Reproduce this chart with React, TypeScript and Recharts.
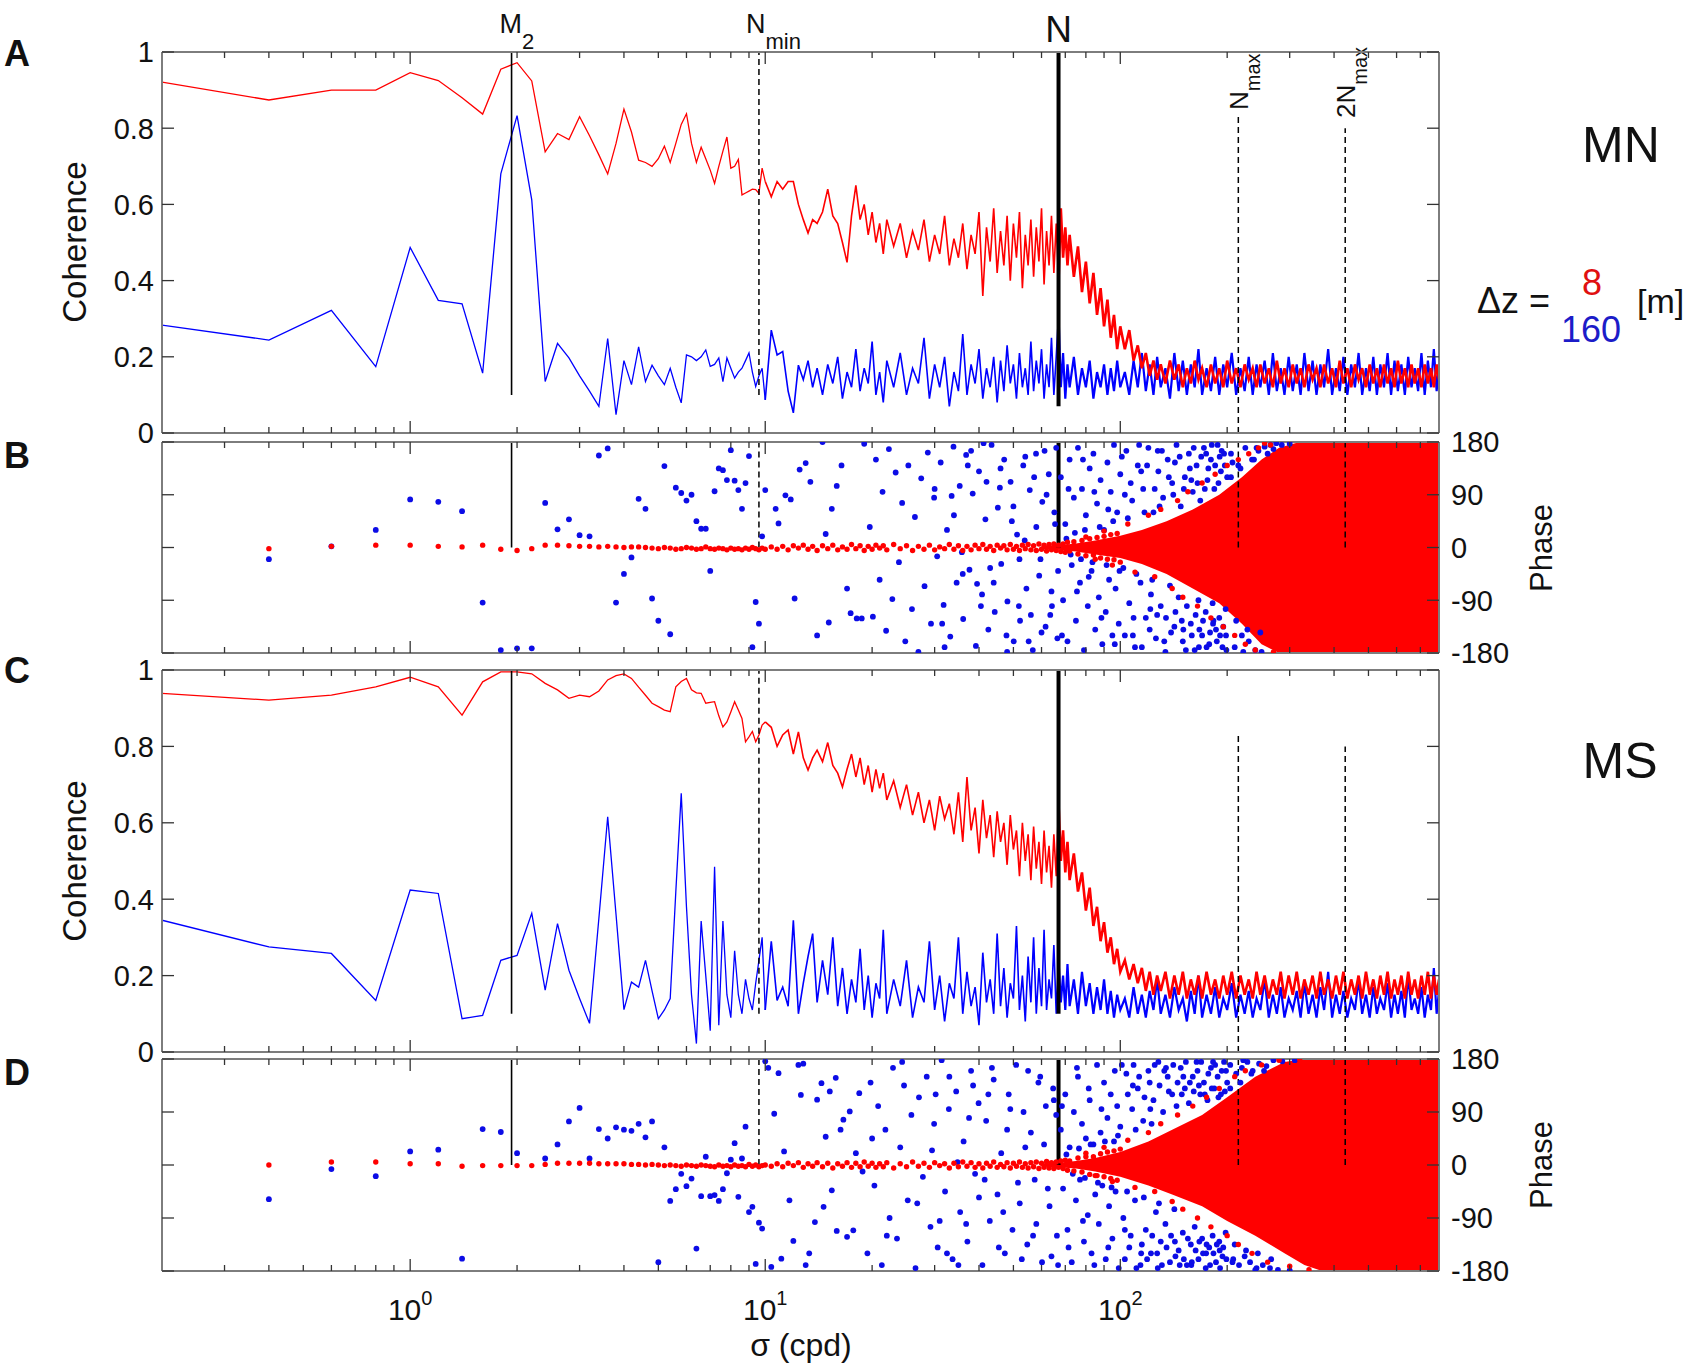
import React from "react";
import { ComposedChart, Line, Scatter, Area, XAxis, YAxis, ReferenceLine } from "recharts";

// page + plot geometry
const W = 1698;
const H = 1372;
const LEFT = 162;
const RIGHT = 1439;
const FONT = '"Liberation Sans", Arial, Helvetica, sans-serif';
const RED = "#ff0000";
const BLUE = "#0000ff";
const DOT_BLUE = "#0c0ce6";
const INK = "#111";

// axes
const xDomain = [0.2, 790];
const xTicks = [0.3, 0.4, 0.5, 0.6, 0.7, 0.8, 0.9, 1, 2, 3, 4, 5, 6, 7, 8, 9, 10, 20, 30, 40, 50, 60, 70, 80, 90, 100, 200, 300, 400, 500, 600, 700];
const xMajor = [1, 10, 100];
const xMajorExp = ["0", "1", "2"];
const cohTicks = [0, 0.2, 0.4, 0.6, 0.8, 1];
const phaseTicks = [-180, -90, 0, 90, 180];

// reference frequencies (cpd)
const fM2 = 1.93;
const fNmin = 9.6;
const fN = 67;
const fNmax = 215;
const f2Nmax = 430;

// frequency grid of the coherence / phase estimates
const freqLow = [0.2, 0.4, 0.6, 0.8, 1, 1.2, 1.4, 1.6, 1.8, 2,
  2.2, 2.4, 2.6, 2.8, 3, 3.2, 3.4, 3.6, 3.8, 4,
  4.2, 4.4, 4.6, 4.8, 5, 5.2, 5.4, 5.6, 5.8, 6,
  6.2, 6.4, 6.6, 6.8, 7, 7.2, 7.4, 7.6, 7.8, 8,
  8.2, 8.4, 8.6, 8.8, 9, 9.2, 9.4, 9.6, 9.8, 10];
const freqMid = [10.4, 10.8, 11.2, 11.6, 12, 12.4, 12.8, 13.2, 13.6, 14,
  14.5, 15, 15.5, 16, 16.5, 17, 17.5, 18, 18.5, 19,
  19.5, 20, 20.5, 21, 21.5, 22, 23, 24, 25, 26,
  27, 28, 29, 30, 31, 32, 33, 34, 35, 36,
  37, 38, 39, 40, 41, 42, 43, 44, 45, 46,
  47, 48, 49, 50, 51, 52, 53, 54, 55, 56,
  57, 58, 59, 60, 61, 62, 63, 64, 65, 66,
  67, 68, 69, 70, 71, 72, 74, 76, 78, 80,
  82, 84, 86, 88, 90, 92, 94, 96, 98, 100];
const freqHigh = [103, 106, 109, 112, 115, 118, 121, 124, 127, 130,
  134, 138, 142, 146, 150, 154, 158, 162, 166, 170,
  175, 180, 185, 190, 195, 200,
  206, 212, 218, 224, 230, 236, 242, 248,
  255, 262, 269, 276, 283, 290,
  298, 306, 314, 322, 330,
  339, 348, 357, 366, 375,
  385, 395, 405, 415, 425,
  436, 447, 458, 469, 480,
  492, 504, 516, 528, 540,
  553, 566, 579, 592, 605,
  619, 633, 647, 661, 675,
  690, 705, 720, 735, 750,
  764, 778, 790];

// ---- MN coherence (A) ----
const mnCoh8Low = [0.921, 0.874, 0.9, 0.9, 0.946, 0.925, 0.88, 0.837, 0.955, 0.972,
  0.924, 0.738, 0.786, 0.77, 0.83, 0.78, 0.73, 0.68, 0.76, 0.85,
  0.79, 0.716, 0.71, 0.7, 0.72, 0.753, 0.71, 0.76, 0.81, 0.838,
  0.76, 0.71, 0.75, 0.72, 0.69, 0.655, 0.7, 0.74, 0.777, 0.695,
  0.7, 0.718, 0.625, 0.63, 0.635, 0.64, 0.639, 0.629, 0.695, 0.66];
const mnCoh8Mid = [0.62, 0.66, 0.64, 0.66, 0.66, 0.6, 0.56, 0.525, 0.56, 0.55,
  0.58, 0.64, 0.57, 0.55, 0.5, 0.448, 0.57, 0.65, 0.56, 0.6,
  0.52, 0.58, 0.5, 0.55, 0.47, 0.56, 0.49, 0.55, 0.46, 0.53,
  0.48, 0.56, 0.45, 0.52, 0.47, 0.57, 0.44, 0.51, 0.46, 0.55,
  0.43, 0.52, 0.47, 0.58, 0.36, 0.54, 0.45, 0.59, 0.42, 0.53,
  0.44, 0.57, 0.4, 0.55, 0.46, 0.58, 0.38, 0.52, 0.44, 0.56,
  0.41, 0.54, 0.45, 0.59, 0.39, 0.53, 0.44, 0.57, 0.42, 0.55,
  0.4, 0.59, 0.46, 0.54, 0.44, 0.52, 0.41, 0.49, 0.37, 0.45,
  0.34, 0.42, 0.31, 0.38, 0.28, 0.35, 0.25, 0.31, 0.22, 0.28];
const mnCoh8High = [0.22, 0.27, 0.19, 0.23, 0.17, 0.21, 0.15, 0.19, 0.14, 0.18,
  0.13, 0.19, 0.14, 0.18, 0.12, 0.17, 0.13, 0.19, 0.14, 0.17,
  0.12, 0.18, 0.13, 0.17, 0.12, 0.19,
  0.13, 0.17, 0.12, 0.18, 0.14, 0.17, 0.12, 0.18,
  0.13, 0.17, 0.12, 0.19, 0.13, 0.17,
  0.12, 0.18, 0.13, 0.17, 0.12,
  0.18, 0.14, 0.17, 0.12, 0.18,
  0.13, 0.17, 0.12, 0.19, 0.13,
  0.17, 0.12, 0.18, 0.14, 0.17,
  0.12, 0.18, 0.13, 0.17, 0.12,
  0.18, 0.13, 0.17, 0.12, 0.19,
  0.13, 0.17, 0.12, 0.18, 0.13,
  0.17, 0.12, 0.18, 0.13, 0.17,
  0.12, 0.18, 0.14];
const mnCoh160Low = [0.283, 0.244, 0.322, 0.174, 0.487, 0.348, 0.339, 0.157, 0.68, 0.833,
  0.612, 0.135, 0.235, 0.197, 0.15, 0.11, 0.07, 0.248, 0.048, 0.19,
  0.127, 0.226, 0.135, 0.178, 0.15, 0.127, 0.17, 0.12, 0.079, 0.205,
  0.2, 0.19, 0.2, 0.218, 0.175, 0.18, 0.197, 0.135, 0.197, 0.17,
  0.144, 0.16, 0.17, 0.19, 0.21, 0.16, 0.122, 0.15, 0.17, 0.087];
const mnCoh160Mid = [0.27, 0.205, 0.214, 0.11, 0.053, 0.178, 0.14, 0.19, 0.12, 0.17,
  0.1, 0.18, 0.13, 0.2, 0.09, 0.16, 0.12, 0.22, 0.11, 0.17,
  0.13, 0.24, 0.1, 0.16, 0.08, 0.19, 0.12, 0.21, 0.1, 0.17,
  0.13, 0.25, 0.09, 0.18, 0.12, 0.2, 0.07, 0.16, 0.11, 0.26,
  0.1, 0.18, 0.13, 0.22, 0.09, 0.17, 0.12, 0.2, 0.08, 0.19,
  0.11, 0.23, 0.13, 0.18, 0.09, 0.21, 0.12, 0.17, 0.1, 0.24,
  0.11, 0.19, 0.13, 0.22, 0.09, 0.18, 0.12, 0.25, 0.1, 0.2,
  0.31, 0.12, 0.21, 0.09, 0.18, 0.12, 0.2, 0.1, 0.17, 0.12,
  0.19, 0.09, 0.16, 0.12, 0.18, 0.1, 0.17, 0.11, 0.19, 0.12];
const mnCoh160High = [0.16, 0.1, 0.19, 0.12, 0.21, 0.11, 0.18, 0.1, 0.2, 0.12,
  0.17, 0.09, 0.21, 0.11, 0.19, 0.1, 0.18, 0.12, 0.22, 0.1,
  0.17, 0.11, 0.2, 0.1, 0.18, 0.12,
  0.21, 0.1, 0.17, 0.11, 0.2, 0.1, 0.18, 0.12,
  0.19, 0.1, 0.21, 0.11, 0.17, 0.1,
  0.2, 0.11, 0.18, 0.1, 0.21,
  0.11, 0.19, 0.1, 0.18, 0.12,
  0.22, 0.1, 0.17, 0.11, 0.2,
  0.1, 0.18, 0.12, 0.21, 0.1,
  0.17, 0.11, 0.2, 0.1, 0.18,
  0.12, 0.21, 0.1, 0.19, 0.11,
  0.18, 0.1, 0.2, 0.12, 0.17,
  0.11, 0.21, 0.1, 0.19, 0.12,
  0.22, 0.11, 0.18];

// ---- MS coherence (C) ----
const msCoh8Low = [0.939, 0.921, 0.934, 0.956, 0.981, 0.956, 0.882, 0.969, 0.995, 0.995,
  0.99, 0.965, 0.948, 0.926, 0.934, 0.93, 0.945, 0.974, 0.985, 0.99,
  0.978, 0.955, 0.934, 0.913, 0.904, 0.895, 0.891, 0.956, 0.97, 0.978,
  0.948, 0.94, 0.939, 0.913, 0.915, 0.917, 0.88, 0.851, 0.864, 0.89,
  0.917, 0.895, 0.873, 0.812, 0.825, 0.839, 0.812, 0.83, 0.856, 0.864];
const msCoh8Mid = [0.85, 0.8, 0.83, 0.843, 0.78, 0.838, 0.77, 0.738, 0.77, 0.79,
  0.76, 0.81, 0.75, 0.73, 0.694, 0.74, 0.78, 0.72, 0.77, 0.7,
  0.75, 0.68, 0.74, 0.69, 0.73, 0.66, 0.71, 0.64, 0.7, 0.62,
  0.68, 0.6, 0.66, 0.58, 0.67, 0.61, 0.65, 0.57, 0.68, 0.55,
  0.72, 0.58, 0.64, 0.52, 0.66, 0.56, 0.62, 0.51, 0.63, 0.55,
  0.6, 0.49, 0.62, 0.53, 0.58, 0.46, 0.6, 0.5, 0.57, 0.45,
  0.59, 0.48, 0.55, 0.44, 0.58, 0.47, 0.54, 0.43, 0.57, 0.46,
  0.65, 0.5, 0.58, 0.47, 0.55, 0.45, 0.52, 0.42, 0.47, 0.37,
  0.43, 0.33, 0.38, 0.29, 0.34, 0.26, 0.3, 0.23, 0.27, 0.21];
const msCoh8High = [0.24, 0.19, 0.23, 0.18, 0.22, 0.16, 0.21, 0.15, 0.2, 0.16,
  0.21, 0.14, 0.2, 0.15, 0.21, 0.14, 0.19, 0.15, 0.2, 0.14,
  0.21, 0.15, 0.19, 0.14, 0.2, 0.15,
  0.21, 0.14, 0.2, 0.15, 0.19, 0.14, 0.21, 0.15,
  0.2, 0.14, 0.19, 0.15, 0.21, 0.14,
  0.2, 0.15, 0.21, 0.14, 0.19,
  0.15, 0.2, 0.14, 0.21, 0.15,
  0.19, 0.14, 0.2, 0.15, 0.21,
  0.14, 0.19, 0.15, 0.2, 0.14,
  0.21, 0.15, 0.19, 0.14, 0.2,
  0.15, 0.21, 0.14, 0.19, 0.15,
  0.2, 0.14, 0.21, 0.15, 0.19,
  0.14, 0.2, 0.15, 0.21, 0.14,
  0.2, 0.15, 0.19];
const msCoh160Low = [0.345, 0.275, 0.258, 0.135, 0.424, 0.415, 0.087, 0.096, 0.24, 0.253,
  0.363, 0.162, 0.336, 0.214, 0.14, 0.075, 0.35, 0.616, 0.36, 0.111,
  0.183, 0.17, 0.24, 0.16, 0.087, 0.11, 0.14, 0.42, 0.677, 0.38,
  0.15, 0.022, 0.343, 0.2, 0.056, 0.485, 0.07, 0.343, 0.15, 0.09,
  0.265, 0.15, 0.1, 0.19, 0.14, 0.11, 0.18, 0.24, 0.3, 0.11];
const msCoh160Mid = [0.29, 0.135, 0.17, 0.12, 0.345, 0.1, 0.18, 0.25, 0.31, 0.13,
  0.24, 0.15, 0.3, 0.12, 0.22, 0.1, 0.19, 0.13, 0.27, 0.11,
  0.2, 0.09, 0.18, 0.14, 0.32, 0.1, 0.19, 0.12, 0.24, 0.09,
  0.17, 0.13, 0.29, 0.11, 0.2, 0.08, 0.18, 0.14, 0.3, 0.1,
  0.21, 0.12, 0.17, 0.07, 0.26, 0.13, 0.19, 0.1, 0.31, 0.12,
  0.22, 0.09, 0.18, 0.14, 0.33, 0.11, 0.2, 0.08, 0.25, 0.13,
  0.3, 0.1, 0.22, 0.12, 0.32, 0.11, 0.19, 0.14, 0.28, 0.1,
  0.24, 0.13, 0.2, 0.11, 0.23, 0.12, 0.19, 0.1, 0.21, 0.12,
  0.18, 0.1, 0.17, 0.11, 0.19, 0.1, 0.16, 0.09, 0.15, 0.11];
const msCoh160High = [0.14, 0.09, 0.17, 0.1, 0.15, 0.09, 0.16, 0.11, 0.19, 0.1,
  0.15, 0.09, 0.17, 0.11, 0.14, 0.08, 0.16, 0.1, 0.2, 0.09,
  0.15, 0.1, 0.17, 0.09, 0.14, 0.11,
  0.18, 0.09, 0.15, 0.1, 0.16, 0.09, 0.14, 0.11,
  0.19, 0.09, 0.15, 0.1, 0.17, 0.09,
  0.14, 0.11, 0.16, 0.09, 0.18,
  0.1, 0.15, 0.09, 0.17, 0.11,
  0.21, 0.09, 0.15, 0.1, 0.16,
  0.09, 0.14, 0.11, 0.19, 0.1,
  0.15, 0.09, 0.17, 0.1, 0.14,
  0.11, 0.18, 0.09, 0.15, 0.1,
  0.16, 0.09, 0.2, 0.11, 0.14,
  0.1, 0.17, 0.09, 0.15, 0.11,
  0.22, 0.1, 0.16];

// ---- MN phase (B), degrees ----
const mnPhase8Low = [null, -2, 2, 4, 4, 2, 1, 4, -3, -5,
  -2, 4, 4, 3, 2, 2, 1, 2, 1, 0,
  1, 1, 0, -1, -2, 0, -1, -3, -2, 0,
  -1, -3, -2, 1, -2, -3, -1, -2, -4, -1,
  -3, -2, -4, -1, -3, 0, -2, -4, -1, -3];
const mnPhase8Mid = [1, -3, 2, -4, 3, -1, 4, -3, 2, -5,
  3, -2, 4, -4, 1, -3, 5, -2, 3, -5,
  2, -3, 4, -1, 3, -4, 5, -2, 3, -5,
  2, -3, 4, -4, 1, -2, 5, -3, 3, -5,
  2, -4, 4, -2, 5, -3, 2, -5, 4, -1,
  3, -4, 5, -3, 2, -5, 4, -2, 5, -4,
  3, -5, 6, -3, 4, -6, 5, -4, 6, -5,
  4, -7, 6, -8, 9, -6, 10, -11, 12, -14,
  15, -13, 17, -18, 19, -20, 22, -21, 24, -25];
const mnPhase8Outer = [[80, 18], [85, -20], [90, 28], [95, -30], [105, 40], [110, -42], [120, 55], [125, -50],
  [130, 65], [140, -70], [145, 80], [150, -85], [155, 95], [165, -100], [170, 110], [180, -120],
  [185, 125], [195, -135], [200, 140], [210, -150], [215, 150], [225, -165], [230, 160], [240, -175],
  [245, 170], [255, 178], [265, 175], [270, -178]];
// dense core of the 8 m phase cloud: frequency, lower and upper edge
const mnCoreFreq = [60, 67, 75, 85, 100, 115, 135, 160, 190, 220, 250, 280, 320, 790];
const mnCoreLo = [-3, -4, -7, -12, -18, -28, -45, -70, -95, -130, -165, -180, -180, -180];
const mnCoreHi = [3, 4, 7, 12, 20, 30, 45, 65, 90, 120, 150, 170, 180, 180];
const mnPhase160Low = [null, -20, 2, 30, 82, 78, 62, -94, -175, -172,
  -172, 76, 31, 48, 21, 19, 157, 169, -94, -45,
  -17, 83, 66, -87, -125, 139, -148, 102, 93, 80,
  90, 45, 32, 32, -40, 96, 135, 132, 115, 166,
  114, 98, 66, 110, 156, -170, -93, -130, 19, 98];
const mnPhase160Extra = [
  [10.7, 66], [10.9, 41], [11.4, 89], [11.8, 82], [12.1, -87], [12.5, 133], [13.0, 144], [13.4, 112], [14.0, -150], [14.5, 180],
  [14.8, 23], [15.1, -128], [15.4, 66], [15.9, 105], [16.4, 140], [17.0, -70], [17.4, -112], [18.1, -121], [18.7, -121], [19.0, 177],
  [19.7, 35], [20.1, -118], [20.5, 150], [21.0, -55], [21.4, 95], [21.9, -142], [22.3, 168], [22.8, -88], [23.3, 128], [23.8, -25],
  [24.3, 76], [24.8, -160], [25.3, 140], [25.9, -105], [26.4, 52], [27.0, -178], [27.5, 118], [28.1, -66], [28.7, 162], [29.3, -130],
  [29.9, 85], [30.5, -15], [31.2, 145], [31.8, -98], [32.5, 30], [33.2, -152], [33.9, 172], [34.6, -60], [35.3, 105], [36.1, -122],
  [36.8, 158], [37.6, -38], [38.4, 92], [39.2, -168], [40.0, 130], [40.8, -80], [41.7, 48], [42.5, -140], [43.4, 175], [44.3, -110],
  [45.2, 68], [46.2, -28], [47.1, 150], [48.1, -92], [49.1, 112], [50.1, -160], [51.2, 22], [52.2, -125], [53.3, 140], [54.4, -70],
  [55.6, 98], [56.7, -175], [57.9, 160], [59.1, -48], [60.3, 78], [61.6, -135], [62.9, 125], [64.2, -100], [65.5, 40], [66.5, -155],
  [30.0, 100], [32.0, -170], [34.0, 55], [36.0, -45], [38.0, 165], [40.5, -100], [42.0, 112], [44.0, -60], [46.0, 135], [48.0, -178],
  [50.0, 70], [52.0, -20], [54.0, 155], [56.0, -115], [58.0, 35], [60.0, -145], [62.0, 90], [64.0, -75], [66.0, 170],
  [31.5, -130], [33.5, 88], [35.8, -8], [37.2, 140], [39.5, -62], [41.2, 178], [43.0, -35], [45.8, 102], [47.8, -150], [49.5, 45],
  [51.8, -100], [53.8, 12], [55.2, -160], [57.2, 120], [59.6, -20], [61.2, 165], [63.5, -115], [65.2, 60], [66.8, -40],
  [68, 120], [69, -90], [70, 40], [71, -160], [72, 150], [73, -30], [74, 85], [75, -125], [76, 170], [77, -60],
  [78, 100], [79, -175], [80, 55], [81, -100], [82, 135], [83, -40], [84, 160], [85, -140], [86, 75], [87, -85],
  [88, 115], [89, -165], [90, 30], [91, -110], [92, 145], [93, -55], [94, 95], [95, -150], [96, 175], [97, -70],
  [98, 60], [99, -130], [100, 125], [102, -35], [104, 165], [106, -95], [108, 80], [110, -170], [112, 140], [114, -60],
  [116, 100], [118, -120], [120, 170], [122, -80], [124, 60], [126, -155], [128, 130], [130, -100], [132, 85], [134, -178],
  [136, 150], [138, -65], [140, 110], [142, -135], [144, 175], [146, -85], [148, 70], [150, -160], [152, 120], [154, -100],
  [156, 160], [158, -130], [160, 95], [162, -175], [164, 140], [166, -90], [168, 80], [170, -150], [172, 170], [174, -110],
  [176, 115], [178, -165], [180, 150], [182, -95], [184, 100], [186, -140], [188, 175], [190, -120], [192, 130], [194, -170],
  [196, 160], [198, -105], [200, 120],
  [68.5, -150], [71.5, 100], [75.5, -75], [78.5, 150], [81.5, -50], [84.5, 95], [88.5, -120], [92.5, 65], [96.5, -165], [103, 90],
  [108.5, -150], [114.5, 130], [121.5, -105], [127.5, 165], [134.5, -120], [142.5, 145], [150.5, -140], [158.5, 115], [166.5, -170], [174.5, 160],
  [182.5, -130], [190.5, 155], [198.5, -150], [207, 145], [222, -178], [242, 170],
  [70.5, 15], [72.5, -12], [74.5, 25], [77.5, -20], [79.5, 30], [83.5, -25], [87.5, 35], [91.5, -30], [95.5, 45], [99.5, -40],
  [105, 50], [111, -45], [117, 60], [123, -55], [129, 70],
  [101, 155], [103, -150], [107, 110], [109, -120], [113, 175], [115, -170], [119, 140], [121, -140], [125, 100], [127, -115],
  [131, 165], [133, -160], [137, 120], [139, -145], [141, 90], [143, -110], [147, 155], [149, -125], [151, 100], [153, -175],
  [157, 135], [159, -150], [161, 170], [163, -115], [165, 110], [167, -140], [169, 155], [171, -125], [173, 100], [175, -170],
  [177, 135], [179, -145], [181, 175], [183, -125], [185, 140], [187, -160], [189, 110], [191, -150], [193, 165], [195, -135],
  [197, 140], [199, -175],
  [205, 160], [210, -170], [215, 140], [220, -150], [225, 170], [230, -160], [235, 150], [240, -175], [245, 165], [250, -178],
  [255, 172], [260, 160], [265, 175], [270, 168], [275, 178], [285, 175], [300, 177], [205, 120], [212, -125], [218, 135],
  [228, -140], [238, 150], [248, -145]];

// ---- MS phase (D), degrees ----
const msPhase8Low = [null, 0, 5, 5, 2, 2, -2, -1, -1, -1,
  -1, 1, 3, 3, 3, 3, 2, 2, 2, 2,
  1, 1, 0, 1, 0, -1, 0, -1, -2, 0,
  -1, -2, 0, -1, -2, -3, 0, -2, -1, -3,
  0, -2, -1, -3, 1, -2, 0, -3, -1, 0];
const msPhase8Mid = [-2, 2, -3, 3, -1, 4, -4, 2, -2, 4,
  -3, 3, -5, 2, -2, 4, -4, 3, -3, 5,
  -2, 3, -4, 2, -3, 4, -5, 2, -3, 5,
  -2, 3, -4, 4, -1, 2, -5, 3, -3, 5,
  -2, 4, -4, 2, -5, 3, -2, 5, -4, 1,
  -3, 4, -5, 3, -2, 5, -4, 2, -5, 4,
  -3, 5, -6, 3, -4, 6, -5, 4, -6, 5,
  -4, 7, -6, 8, -9, 7, -10, 12, -12, 14,
  -16, 14, -18, 19, -20, 22, -23, 24, -26, 27];
const msPhase8Outer = [[80, 20], [85, -18], [90, 30], [95, -28], [105, 42], [110, -38], [120, 55], [125, -45],
  [130, 70], [140, -62], [145, 85], [150, -75], [160, 100], [165, -90], [175, 115], [180, -105],
  [190, 130], [200, -120], [210, 150], [215, -135], [225, 160], [235, -150], [250, 170], [260, -165],
  [280, 178], [300, -172], [320, 180], [340, -178]];
const msCoreFreq = [60, 67, 75, 85, 100, 120, 140, 170, 200, 240, 290, 330, 370, 790];
const msCoreLo = [-3, -4, -6, -11, -20, -35, -50, -70, -95, -120, -150, -170, -180, -180];
const msCoreHi = [3, 4, 7, 12, 22, 40, 60, 85, 115, 150, 175, 180, 180, 180];
const msPhase160Low = [null, -58, -7, -19, 23, 26, -159, 61, 56, 20,
  null, 11, 35, 74, 97, 11, 61, 45, 64, 60,
  58, 70, 47, 74, -165, 30, -61, -41, -15, -36,
  -23, -142, -53, 14, -53, -51, -61, -41, -14, 9,
  37, -54, 11, 65, -80, -71, -168, -98, -108, 176];
const msPhase160Extra = [
  [10.2, 165], [10.4, -173], [10.6, 87], [10.9, 156], [11.1, -159], [11.3, 23], [11.7, -60], [12.0, -129], [12.4, 170], [12.6, 119],
  [12.8, 172], [13.0, -170], [13.3, -150], [13.8, -97], [14.0, 111], [14.4, 139], [14.6, -71], [14.8, 48], [15.2, 125], [15.4, -43],
  [15.8, 148], [15.9, -112], [16.3, 60], [16.6, 77], [17.0, -122], [17.3, 91], [17.7, -111], [18.0, 20], [18.4, 122], [18.8, -11],
  [19.4, -150], [19.8, 140], [20.3, -35], [20.8, 100], [21.3, -170], [21.8, 60], [22.4, -90], [22.9, 165], [23.5, -125], [24.0, 30],
  [24.6, 135], [25.2, -60], [25.8, 85], [26.5, -175], [27.1, 115], [27.8, -20], [28.5, 150], [29.2, -105], [29.9, 70], [30.6, -140],
  [31.4, 178], [32.1, -45], [32.9, 95], [33.7, -160], [34.5, 125], [35.4, -80], [36.2, 40], [37.1, -130], [38.0, 160], [39.0, -15],
  [39.9, 105], [40.9, -170], [41.9, 75], [42.9, -95], [44.0, 145], [45.1, -50], [46.2, 20], [47.3, -150], [48.5, 120], [49.7, -110],
  [50.9, 170], [52.1, -65], [53.4, 90], [54.7, -135], [56.0, 55], [57.4, -25], [58.8, 140], [60.2, -165], [61.7, 100], [63.2, -70],
  [64.7, 130], [66.3, -120],
  [20.0, 45], [22.0, -120], [24.3, 175], [26.8, -65], [29.5, 25], [31.0, -95], [33.0, 150], [35.0, -170], [37.5, 80], [40.0, -55],
  [42.5, 120], [45.5, -140], [48.0, 60], [51.5, -30], [55.0, 160], [58.0, -100], [61.0, 35], [64.0, -155], [66.0, 85],
  [30.2, 120], [32.5, -150], [34.8, 5], [36.8, -100], [38.5, 135], [41.5, -25], [43.5, 165], [46.8, -80], [49.0, 95], [52.8, -160],
  [54.0, 30], [56.8, -120], [59.5, 150], [62.5, -40], [65.0, 110], [66.8, -170],
  [68, 60], [69, -40], [70, 120], [71, -110], [72, 30], [73, -165], [74, 90], [75, -60], [76, 150], [77, -25],
  [78, 70], [79, -130], [80, 45], [81, -85], [82, 110], [83, -150], [84, 35], [85, -50], [86, 170], [87, -100],
  [88, 55], [89, -35], [90, 140], [91, -160], [92, 80], [93, -70], [94, 120], [95, -125], [96, 40], [97, -45],
  [98, 100], [99, -175], [100, 65], [102, -90], [104, 155], [106, -140], [108, 95], [110, -60], [112, 130], [114, -170],
  [116, 75], [118, -110], [120, 160], [122, -150], [124, 110], [126, -80], [128, 175], [130, -130], [132, 90], [134, -100],
  [136, 150], [138, -165], [140, 120], [142, -75], [144, 100], [146, -145], [148, 165], [150, -115], [152, 130], [154, -170],
  [156, 105], [158, -135], [160, 150], [162, -105], [164, 175], [166, -160], [168, 120], [170, -125], [172, 140], [174, -175],
  [176, 110], [178, -140], [180, 165], [182, -120], [184, 130], [186, -165], [188, 150], [190, -130], [192, 120], [194, -155],
  [196, 175], [198, -115], [200, 140],
  [68.5, 100], [71.5, -140], [75.5, 165], [78.5, -95], [81.5, 130], [84.5, -170], [88.5, 95], [92.5, -140], [96.5, 160], [103, -110],
  [108.5, 135], [114.5, -150], [121.5, 95], [127.5, -175], [134.5, 165], [142.5, -130], [150.5, 150], [158.5, -170], [166.5, 135], [174.5, -150],
  [182.5, 175], [190.5, -145], [198.5, 160], [207, -165], [222, 178], [242, -175],
  [101, 170], [103, -160], [105, 120], [107, -120], [109, 170], [111, -175], [113, 150], [115, -135], [117, 115], [119, -160],
  [121, 140], [123, -120], [125, 170], [127, -150], [129, 135], [131, -170], [133, 160], [135, -140], [137, 125], [139, -120],
  [141, 170], [143, -155], [145, 140], [147, -170], [149, 120], [151, -160], [153, 175], [155, -125], [157, 140], [159, -165],
  [161, 125], [163, -145], [165, 160], [167, -130], [169, 175], [171, -150], [173, 120], [175, -135], [177, 155], [179, -170],
  [181, 130], [183, -150], [185, 170], [187, -135], [189, 115], [191, -175], [193, 160], [195, -140], [197, 125], [199, -160],
  [70.5, 18], [73.5, -15], [76.5, 28], [79.5, -22], [82.5, 35], [86.5, -30], [90.5, 40], [94.5, -38], [98.5, 50], [104.5, -45],
  [110.5, 60], [116.5, -55], [122.5, 70], [128.5, -65],
  [204, 170], [208, -160], [212, 155], [216, -170], [220, 165], [224, -155], [228, 175], [232, -165], [236, 160], [240, -178],
  [246, 172], [252, -170], [258, 168], [264, -175], [270, 178], [278, -178], [286, 176], [300, -179], [310, 178], [204, 130],
  [210, -135], [218, 140], [226, -145], [234, 155], [244, -150], [254, 160], [266, -160]];

// ---- row builders ----
type Row = { f: number; v: number };
const zipRows = (fs: number[], vs: (number | null)[]): Row[] =>
  fs.map((f, i) => ({ f, v: vs[i] as number })).filter((r) => r.v !== null && r.v !== undefined);
const pairRows = (pairs: number[][]): Row[] => pairs.map(([f, v]) => ({ f, v }));
const coreRows = (fs: number[], lo: number[], hi: number[]) => fs.map((f, i) => ({ f, range: [lo[i], hi[i]] }));
const seriesRows = (low: number[], mid: number[], high: number[]) =>
  [...zipRows(freqLow, low), ...zipRows(freqMid, mid), ...zipRows(freqHigh, high)];

const mnRed = seriesRows(mnCoh8Low, mnCoh8Mid, mnCoh8High);
const mnBlue = seriesRows(mnCoh160Low, mnCoh160Mid, mnCoh160High);
const msRed = seriesRows(msCoh8Low, msCoh8Mid, msCoh8High);
const msBlue = seriesRows(msCoh160Low, msCoh160Mid, msCoh160High);

const mnPhRed = [...zipRows(freqLow, mnPhase8Low), ...zipRows(freqMid, mnPhase8Mid), ...pairRows(mnPhase8Outer)];
const mnPhBlue = [...zipRows(freqLow, mnPhase160Low), ...pairRows(mnPhase160Extra)];
const msPhRed = [...zipRows(freqLow, msPhase8Low), ...zipRows(freqMid, msPhase8Mid), ...pairRows(msPhase8Outer)];
const msPhBlue = [...zipRows(freqLow, msPhase160Low), ...pairRows(msPhase160Extra)];
const mnCore = coreRows(mnCoreFreq, mnCoreLo, mnCoreHi);
const msCore = coreRows(msCoreFreq, msCoreLo, msCoreHi);

// ---- ticks ----
function XTick(p: any) {
  const { x, y, payload, side, labels } = p;
  const v = payload.value;
  const mi = xMajor.indexOf(v);
  const len = mi >= 0 ? 12 : 6;
  const y2 = side === "bottom" ? y - len : y + len;
  return (
    <g>
      <line x1={x} x2={x} y1={y} y2={y2} stroke="#333" strokeWidth={1.3} />
      {labels && mi >= 0 ? (
        <text x={x} y={y + 49} textAnchor="middle" fontSize={30} fontFamily={FONT} fill={INK}>
          10<tspan dy={-15} fontSize={20}>{xMajorExp[mi]}</tspan>
        </text>
      ) : null}
    </g>
  );
}

function YTick(p: any) {
  const { x, y, payload, side, labels } = p;
  const dir = side === "left" ? 1 : -1;
  return (
    <g>
      <line x1={x} x2={x + dir * 12} y1={y} y2={y} stroke="#333" strokeWidth={1.3} />
      {labels ? (
        <text
          x={side === "left" ? x - 8 : x + 12}
          y={y}
          dy="0.36em"
          textAnchor={side === "left" ? "end" : "start"}
          fontSize={29}
          fontFamily={FONT}
          fill={INK}
        >
          {String(payload.value)}
        </text>
      ) : null}
    </g>
  );
}

const frameLine = { stroke: "#7d7d7d", strokeWidth: 2 };

const dot = (color: string, r: number) => (p: any) =>
  p && Number.isFinite(p.cx) ? <circle cx={p.cx} cy={p.cy} r={r} fill={color} /> : <g />;

// ---- marker labels ----
const subLabel = (main: string, sub: string, shift: number) => (p: any) => {
  const x = (p && p.viewBox && p.viewBox.x) || 0;
  return (
    <text x={x + shift} y={33} fontSize={27} fontFamily={FONT} fill={INK}>
      {main}
      <tspan fontSize={22} dy={16}>{sub}</tspan>
    </text>
  );
};
const bigLabel = (p: any) => {
  const x = (p && p.viewBox && p.viewBox.x) || 0;
  return (
    <text x={x} y={42} textAnchor="middle" fontSize={37} fontFamily={FONT} fill={INK}>
      N
    </text>
  );
};
const sideLabel = (main: string, startY: number) => (p: any) => {
  const x = ((p && p.viewBox && p.viewBox.x) || 0) + 10;
  return (
    <text x={x} y={startY} transform={`rotate(-90 ${x} ${startY})`} fontSize={26} fontFamily={FONT} fill={INK}>
      {main}
      <tspan fontSize={20} dy={12}>max</tspan>
    </text>
  );
};

type Span = [number, number];
function markers(spans: { m2: Span; nMin: Span; n: Span; nMax: Span; n2: Span }, withLabels: boolean) {
  const ax = { xAxisId: "b", yAxisId: "l" } as const;
  const dash = "6 4";
  return [
    <ReferenceLine key="m2" {...ax} segment={[{ x: fM2, y: spans.m2[0] }, { x: fM2, y: spans.m2[1] }]} stroke="#000" strokeWidth={1.6}
      label={withLabels ? subLabel("M", "2", -12) : undefined} />,
    <ReferenceLine key="nmin" {...ax} segment={[{ x: fNmin, y: spans.nMin[0] }, { x: fNmin, y: spans.nMin[1] }]} stroke="#000" strokeWidth={1.5} strokeDasharray={dash}
      label={withLabels ? subLabel("N", "min", -13) : undefined} />,
    <ReferenceLine key="n" {...ax} segment={[{ x: fN, y: spans.n[0] }, { x: fN, y: spans.n[1] }]} stroke="#000" strokeWidth={4}
      label={withLabels ? bigLabel : undefined} />,
    <ReferenceLine key="nmax" {...ax} segment={[{ x: fNmax, y: spans.nMax[0] }, { x: fNmax, y: spans.nMax[1] }]} stroke="#000" strokeWidth={1.5} strokeDasharray={dash}
      label={withLabels ? sideLabel("N", 110) : undefined} />,
    <ReferenceLine key="n2max" {...ax} segment={[{ x: f2Nmax, y: spans.n2[0] }, { x: f2Nmax, y: spans.n2[1] }]} stroke="#000" strokeWidth={1.5} strokeDasharray={dash}
      label={withLabels ? sideLabel("2N", 118) : undefined} />,
  ];
}

// ---- one panel ----
function Panel(props: {
  top: number;
  bottom: number;
  yDomain: number[];
  yTicks: number[];
  labelsLeft: boolean;
  xLabels?: boolean;
  children: React.ReactNode;
}) {
  const { top, bottom, yDomain, yTicks, labelsLeft, xLabels, children } = props;
  return (
    <div style={{ position: "absolute", left: 0, top: 0 }}>
      <ComposedChart
        width={W}
        height={H}
        margin={{ top: top - 1, bottom: H - bottom - 1, left: LEFT - 1, right: W - RIGHT - 1 }}
      >
        <XAxis xAxisId="b" type="number" dataKey="f" scale="log" domain={xDomain} allowDataOverflow ticks={xTicks} interval={0}
          height={1} tickSize={0} tickMargin={0} tickLine={false} axisLine={frameLine}
          tick={(p: any) => <XTick {...p} side="bottom" labels={!!xLabels} />} />
        <XAxis xAxisId="t" orientation="top" type="number" dataKey="f" scale="log" domain={xDomain} allowDataOverflow ticks={xTicks} interval={0}
          height={1} tickSize={0} tickMargin={0} tickLine={false} axisLine={frameLine}
          tick={(p: any) => <XTick {...p} side="top" labels={false} />} />
        <YAxis yAxisId="l" type="number" domain={yDomain} allowDataOverflow ticks={yTicks} interval={0}
          width={1} tickSize={0} tickMargin={0} tickLine={false} axisLine={frameLine}
          tick={(p: any) => <YTick {...p} side="left" labels={labelsLeft} />} />
        <YAxis yAxisId="r" orientation="right" type="number" domain={yDomain} allowDataOverflow ticks={yTicks} interval={0}
          width={1} tickSize={0} tickMargin={0} tickLine={false} axisLine={frameLine}
          tick={(p: any) => <YTick {...p} side="right" labels={!labelsLeft} />} />
        {children}
      </ComposedChart>
    </div>
  );
}

// thin line below 10 cpd, denser texture up to N, heavy band above N
function cohLine(key: string, rows: Row[], color: string, from: number, to: number, width: number) {
  return (
    <Line key={key} xAxisId="b" yAxisId="l" data={rows.filter((r) => r.f >= from && r.f <= to)} dataKey="v" type="linear"
      stroke={color} strokeWidth={width} dot={false} activeDot={false} isAnimationActive={false} />
  );
}

function cohSeries(red: Row[], blue: Row[]) {
  return [
    cohLine("b1", blue, BLUE, 0, 10, 1.3),
    cohLine("b2", blue, BLUE, 10, fN, 1.6),
    cohLine("r1", red, RED, 0, 10, 1.3),
    cohLine("r2", red, RED, 10, fN, 1.6),
    cohLine("b3", blue, BLUE, fN, 1000, 2.2),
    cohLine("r3", red, RED, fN, 1000, 2.6),
  ];
}

function phaseSeries(red: Row[], blue: Row[], core: any[]) {
  return [
    <Scatter key="b" xAxisId="b" yAxisId="l" data={blue} dataKey="v" fill={DOT_BLUE} shape={dot(DOT_BLUE, 2.9)} isAnimationActive={false} />,
    <Area key="c" xAxisId="b" yAxisId="l" data={core} dataKey="range" type="linear" stroke="none" fill={RED} fillOpacity={1}
      dot={false} activeDot={false} isAnimationActive={false} />,
    <Scatter key="r" xAxisId="b" yAxisId="l" data={red} dataKey="v" fill={RED} shape={dot(RED, 2.7)} isAnimationActive={false} />,
  ];
}

export default function App() {
  const phaseSpan: Span = [0, 180];
  return (
    <div style={{ position: "absolute", left: 0, top: 0, width: W, height: H, background: "#fff", fontFamily: FONT }}>
      <Panel top={52} bottom={433} yDomain={[0, 1]} yTicks={cohTicks} labelsLeft>
        {cohSeries(mnRed, mnBlue)}
        {markers({ m2: [0.1, 1], nMin: [0.1, 1], n: [0.07, 1], nMax: [0, 0.835], n2: [0, 0.8] }, true)}
      </Panel>
      <Panel top={442} bottom={653} yDomain={[-180, 180]} yTicks={phaseTicks} labelsLeft={false}>
        {phaseSeries(mnPhRed, mnPhBlue, mnCore)}
        {markers({ m2: phaseSpan, nMin: phaseSpan, n: phaseSpan, nMax: phaseSpan, n2: phaseSpan }, false)}
      </Panel>
      <Panel top={670} bottom={1052} yDomain={[0, 1]} yTicks={cohTicks} labelsLeft>
        {cohSeries(msRed, msBlue)}
        {markers({ m2: [0.1, 1], nMin: [0.1, 1], n: [0.1, 1], nMax: [0, 0.838], n2: [0, 0.8] }, false)}
      </Panel>
      <Panel top={1059} bottom={1271} yDomain={[-180, 180]} yTicks={phaseTicks} labelsLeft={false} xLabels>
        {phaseSeries(msPhRed, msPhBlue, msCore)}
        {markers({ m2: phaseSpan, nMin: phaseSpan, n: phaseSpan, nMax: phaseSpan, n2: phaseSpan }, false)}
      </Panel>

      <svg width={W} height={H} style={{ position: "absolute", left: 0, top: 0, pointerEvents: "none" }} fontFamily={FONT}>
        <g fontSize={36} fontWeight="bold" fill={INK}>
          <text x={4} y={66}>A</text>
          <text x={4} y={468}>B</text>
          <text x={4} y={683}>C</text>
          <text x={4} y={1085}>D</text>
        </g>
        <text x={86} y={242} transform="rotate(-90 86 242)" textAnchor="middle" fontSize={33} fill={INK}>Coherence</text>
        <text x={86} y={861} transform="rotate(-90 86 861)" textAnchor="middle" fontSize={33} fill={INK}>Coherence</text>
        <text x={1552} y={548} transform="rotate(-90 1552 548)" textAnchor="middle" fontSize={31} fill={INK}>Phase</text>
        <text x={1552} y={1165} transform="rotate(-90 1552 1165)" textAnchor="middle" fontSize={31} fill={INK}>Phase</text>
        <text x={1621} y={162} textAnchor="middle" fontSize={50} fill={INK}>MN</text>
        <text x={1620} y={778} textAnchor="middle" fontSize={50} fill={INK}>MS</text>
        <text x={1477} y={313} fontSize={36} fill={INK}>Δz =</text>
        <text x={1592} y={295} textAnchor="middle" fontSize={36} fill="#e01010">8</text>
        <text x={1591} y={342} textAnchor="middle" fontSize={36} fill="#1c1cc8">160</text>
        <text x={1637} y={313} fontSize={34} fill={INK}>[m]</text>
        <text x={801} y={1356} textAnchor="middle" fontSize={32} fill={INK}>σ (cpd)</text>
      </svg>
    </div>
  );
}
